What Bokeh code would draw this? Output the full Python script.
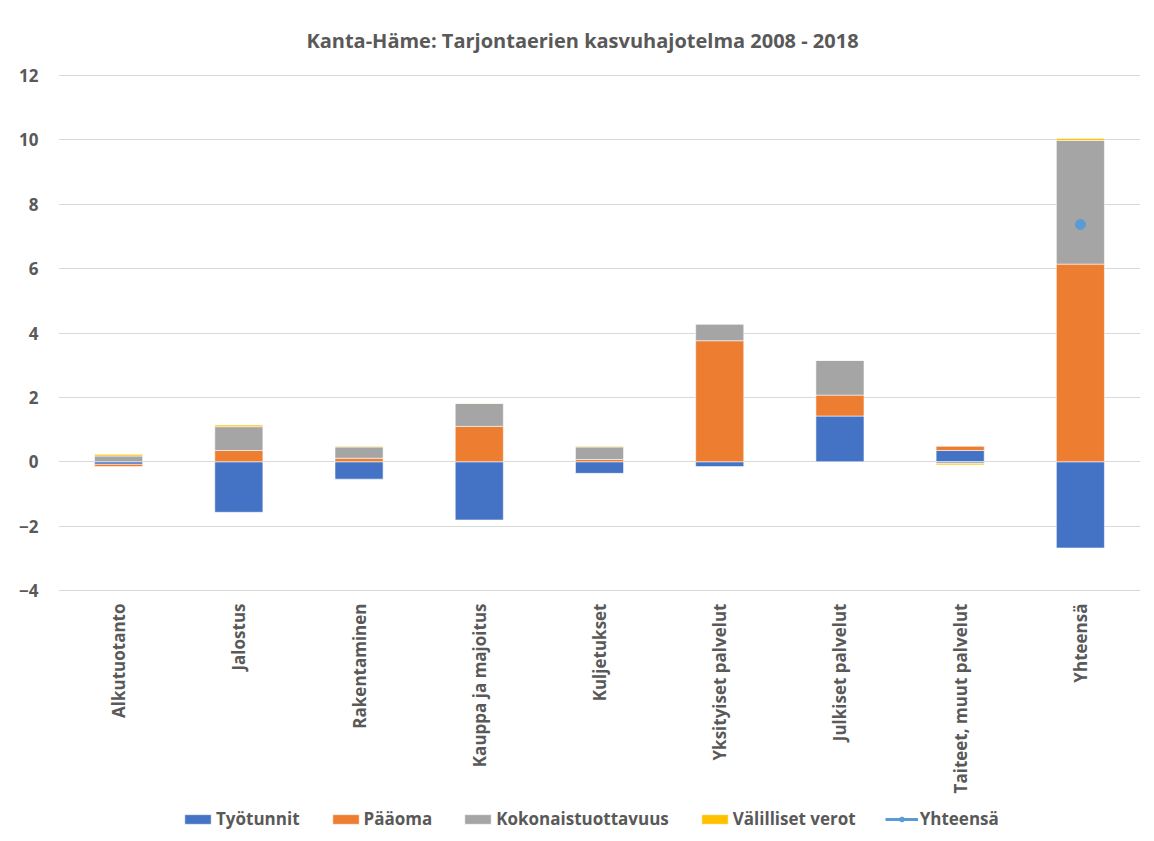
import numpy as np
from bokeh.plotting import figure
from bokeh.models import (FactorRange, Range1d, Legend, LegendItem, FixedTicker,
                          ColumnDataSource, Label)
from bokeh.core.properties import value
from bokeh.embed import file_html
from bokeh.resources import INLINE

categories = ["Alkutuotanto", "Jalostus", "Rakentaminen", "Kauppa ja majoitus", "Kuljetukset",
              "Yksityiset palvelut", "Julkiset palvelut", "Taiteet, muut palvelut", "Yhteensä"]
tyotunnit = [-0.08, -1.57, -0.54, -1.81, -0.36, -0.15, 1.42, 0.35, -2.68]
paaoma = [-0.07, 0.35, 0.11, 1.10, 0.07, 3.76, 0.65, 0.13, 6.14]
kokonaistuottavuus = [0.18, 0.74, 0.35, 0.71, 0.39, 0.52, 1.08, -0.06, 3.84]
valilliset_verot = [0.05, 0.05, 0.02, 0.01, 0.02, 0.0, 0.0, -0.04, 0.06]
yhteensa_cat = ["Yhteensä"]
yhteensa = [7.37]
y_ticks = [-4, -2, 0, 2, 4, 6, 8, 10, 12]

series_names = ["Työtunnit", "Pääoma", "Kokonaistuottavuus", "Välilliset verot"]
series_vals = [tyotunnit, paaoma, kokonaistuottavuus, valilliset_verot]
colors = ["#4472C4", "#ED7D31", "#A5A5A5", "#FFC000"]

FONT = "Open Sans"
TXT = "#595959"

# layout: value axis -4..12 spans 515px, starting 75px below the top
PX = 515 / 16.0
FH = 833
y_top = 12 + 75 / PX
y_bot = -4 - 243 / PX

p = figure(frame_width=1082, frame_height=FH, x_range=FactorRange(*categories, range_padding=0),
           y_range=Range1d(y_bot, y_top), output_backend="svg", toolbar_location=None,
           min_border_left=58, min_border_right=6, min_border_top=0, min_border_bottom=0)

pos = np.zeros(len(categories))
neg = np.zeros(len(categories))
items = []
for name, vals, col in zip(series_names, series_vals, colors):
    v = np.array(vals, dtype=float)
    bottom = np.where(v >= 0, pos, neg)
    top = bottom + v
    pos = np.where(v >= 0, top, pos)
    neg = np.where(v < 0, top, neg)
    src = ColumnDataSource(dict(x=categories, bottom=bottom, top=top))
    r = p.vbar(x="x", bottom="bottom", top="top", width=0.4, source=src,
               fill_color=col, line_color="white", line_width=0.8, line_alpha=0.7)
    items.append(LegendItem(label=name, renderers=[r]))

rl = p.line(x=yhteensa_cat, y=yhteensa, line_color="#5B9BD5", line_width=3)
rs = p.scatter(x=yhteensa_cat, y=yhteensa, size=10, fill_color="#5B9BD5", line_color="#5B9BD5")
items.append(LegendItem(label="Yhteensä", renderers=[rl, rs]))

# category labels, rotated, just below the -4 line
p.text(x=categories, y=[y_ticks[0] - 13 / PX] * len(categories), text=categories,
       angle=np.pi / 2, text_align="right", text_baseline="middle",
       text_font=value(FONT), text_font_size="17px", text_font_style="bold", text_color=TXT)

title = Label(x=524, y=FH - 40, x_units="screen", y_units="screen",
              text="Kanta-Häme: Tarjontaerien kasvuhajotelma 2008 - 2018",
              text_font=FONT, text_font_size="20px", text_font_style="bold",
              text_color=TXT, text_align="center", text_baseline="middle")
p.add_layout(title)

p.xaxis.visible = False
p.yaxis.ticker = FixedTicker(ticks=y_ticks)
p.yaxis.axis_line_color = None
p.yaxis.major_tick_line_color = None
p.yaxis.minor_tick_line_color = None
p.yaxis.major_tick_out = 0
p.yaxis.major_tick_in = 0
p.yaxis.major_label_text_font = FONT
p.yaxis.major_label_text_font_size = "17px"
p.yaxis.major_label_text_font_style = "bold"
p.yaxis.major_label_text_color = TXT
p.yaxis.major_label_standoff = 20

p.xgrid.grid_line_color = None
p.ygrid.ticker = FixedTicker(ticks=y_ticks)
p.ygrid.grid_line_color = "#D9D9D9"
p.ygrid.grid_line_width = 1
p.outline_line_color = None

legend = Legend(items=items, orientation="horizontal", location=(123, 3),
                label_text_font=FONT, label_text_font_size="17px", label_text_font_style="bold",
                label_text_color=TXT, glyph_width=33, glyph_height=12, spacing=29,
                label_standoff=2, border_line_color=None, background_fill_alpha=0,
                margin=0, padding=0, label_height=20)
p.add_layout(legend, "center")

open("out.html", "w").write(file_html(p, INLINE))
